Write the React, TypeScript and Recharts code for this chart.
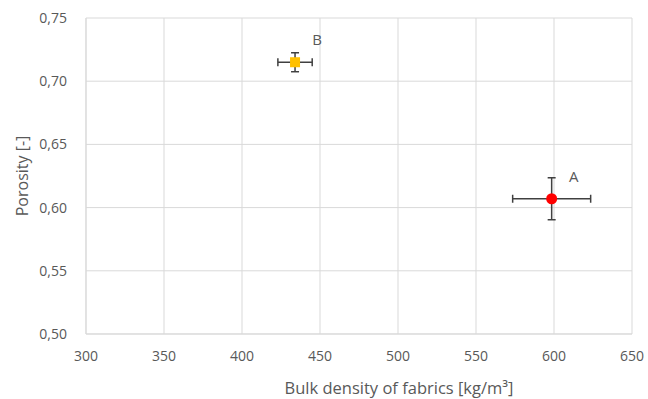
import React from 'react';
import { ScatterChart, Scatter, XAxis, YAxis, CartesianGrid, ErrorBar, Label } from 'recharts';

// samples
const names = ['A', 'B'];
const density = [598.5, 434];
const porosity = [0.607, 0.715];
const densityErr = [25, 11];
const porosityErr = [0.0166, 0.0075];
const colors = ['#ff0000', '#ffc000'];

const xTicks = [300, 350, 400, 450, 500, 550, 600, 650];
const yTicks = [0.5, 0.55, 0.6, 0.65, 0.7, 0.75];

const rows = names.map((n, i) => ({
  name: n,
  x: density[i],
  y: porosity[i],
  ex: densityErr[i],
  ey: porosityErr[i],
}));

const font = 'Open Sans, Noto Sans, sans-serif';
const gray = '#595959';

const Marker = (props: any) => {
  const { cx, cy, payload } = props;
  const isB = payload.name === 'B';
  const color = isB ? colors[1] : colors[0];
  return (
    <g>
      {isB ? (
        <rect x={cx - 5} y={cy - 5} width={10} height={10} fill={color} />
      ) : (
        <circle cx={cx} cy={cy} r={5.5} fill={color} />
      )}
      <text
        x={cx + 22}
        y={cy - 17}
        fill={gray}
        fontSize={15}
        fontFamily={font}
        textAnchor="middle"
      >
        {payload.name}
      </text>
    </g>
  );
};

export default function App() {
  return (
    <div style={{ position: 'absolute', left: 0, top: 0, background: '#fff' }}>
      <ScatterChart
        width={648}
        height={399}
        margin={{ top: 18, right: 16, bottom: 0, left: 0 }}
      >
        <CartesianGrid stroke="#d9d9d9" strokeWidth={1} />
        <XAxis
          type="number"
          dataKey="x"
          domain={[300, 650]}
          ticks={xTicks}
          interval={0}
          axisLine={{ stroke: '#d9d9d9' }}
          tickLine={false}
          tickMargin={11}
          height={65}
          tick={{ fill: gray, fontSize: 14, fontFamily: font }}
        >
          <Label
            value="Bulk density of fabrics [kg/m³]"
            position="insideBottom"
            offset={5}
            dx={40}
            style={{ fill: gray, fontSize: 16.5, fontFamily: font }}
          />
        </XAxis>
        <YAxis
          type="number"
          dataKey="y"
          domain={[0.5, 0.75]}
          ticks={yTicks}
          interval={0}
          width={86}
          axisLine={{ stroke: '#d9d9d9' }}
          tickLine={false}
          tickMargin={13}
          tickFormatter={(v: number) => v.toFixed(2).replace('.', ',')}
          tick={{ fill: gray, fontSize: 14, fontFamily: font }}
        >
          <Label
            value="Porosity [-]"
            angle={-90}
            position="insideLeft"
            offset={22}
            style={{ fill: gray, fontSize: 16, fontFamily: font, textAnchor: 'middle' }}
          />
        </YAxis>
        <Scatter data={rows} shape={<Marker />} isAnimationActive={false}>
          <ErrorBar dataKey="ex" direction="x" stroke="#404040" strokeWidth={1.5} width={4} />
          <ErrorBar dataKey="ey" direction="y" stroke="#404040" strokeWidth={1.5} width={4} />
        </Scatter>
      </ScatterChart>
    </div>
  );
}
